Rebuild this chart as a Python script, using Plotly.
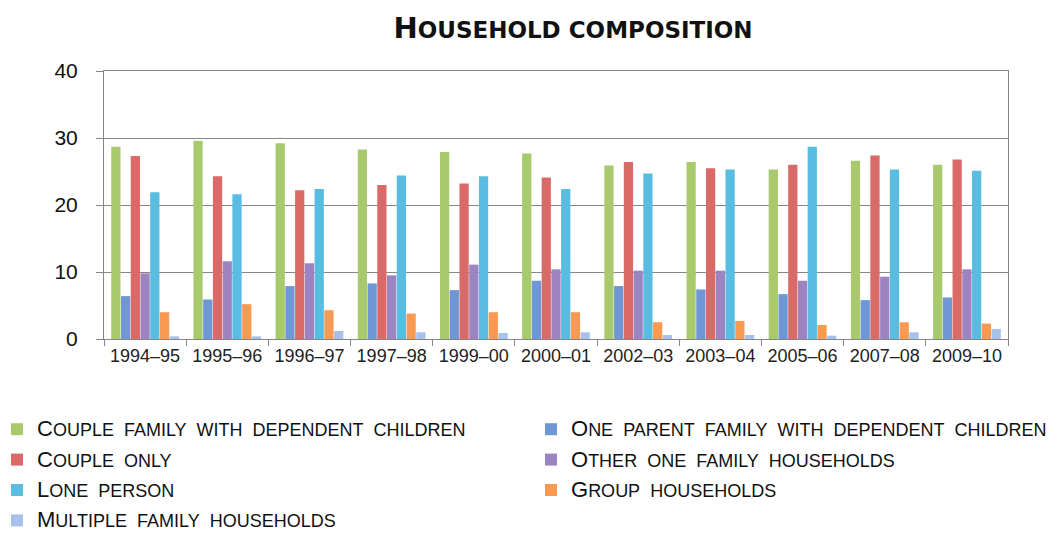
import plotly.graph_objects as go

years = ["1994–95", "1995–96", "1996–97", "1997–98", "1999–00", "2000–01",
         "2002–03", "2003–04", "2005–06", "2007–08", "2009–10"]

couple_with_children = [28.7, 29.6, 29.2, 28.3, 27.9, 27.7, 25.9, 26.4, 25.3, 26.6, 26.0]
one_parent = [6.4, 5.9, 7.9, 8.3, 7.3, 8.7, 7.9, 7.4, 6.7, 5.8, 6.2]
couple_only = [27.3, 24.3, 22.2, 23.0, 23.2, 24.1, 26.4, 25.5, 26.0, 27.4, 26.8]
other_one_family = [9.8, 11.6, 11.3, 9.5, 11.1, 10.4, 10.2, 10.2, 8.7, 9.3, 10.4]
lone_person = [21.9, 21.6, 22.4, 24.4, 24.3, 22.4, 24.7, 25.3, 28.7, 25.3, 25.1]
group_households = [4.0, 5.2, 4.3, 3.8, 4.0, 4.0, 2.5, 2.7, 2.1, 2.5, 2.3]
multiple_family = [0.4, 0.4, 1.2, 1.0, 0.9, 1.0, 0.6, 0.6, 0.5, 1.0, 1.5]

series = [
    ("Couple family with dependent children", couple_with_children, "#a9ca6c", "legend"),
    ("One parent family with dependent children", one_parent, "#6f97d6", "legend2"),
    ("Couple only", couple_only, "#d96a67", "legend"),
    ("Other one family households", other_one_family, "#9c84c2", "legend2"),
    ("Lone person", lone_person, "#58bde0", "legend"),
    ("Group households", group_households, "#f89a52", "legend2"),
    ("Multiple family households", multiple_family, "#a6c1ea", "legend"),
]


def small_caps(text, big=22):
    """Render text as small caps: first letter of the label larger, rest uppercase."""
    up = text.upper()
    rest = up[1:].replace(" ", "\u00a0 ")
    return f"<span style='font-size:{big}px'>{up[0]}</span>{rest}"


fig = go.Figure()
for name, vals, color, lg in series:
    fig.add_trace(go.Bar(
        x=years, y=vals, name=small_caps(name), legend=lg, legendgroup=name,
        marker=dict(color=color, line=dict(width=0)),
    ))

grid = "#868686"
legend_font = dict(family="Liberation Sans, Arial, sans-serif", size=18, color="#111111")

title_text = "<b><span style='font-size:29px'>H</span>OUSEHOLD COMPOSITION</b>"

PLOT_L, PLOT_W = 104, 904
PLOT_B, PLOT_H = 339, 268

fig.update_layout(
    width=1059, height=534,
    margin=dict(l=104, r=51, t=71, b=195, autoexpand=False),
    paper_bgcolor="white", plot_bgcolor="white",
    barmode="group", bargap=0.17, bargroupgap=0.05,
    title=dict(text=title_text, x=573 / 1059, xanchor="center",
               xref="container", y=1 - 30 / 534, yref="container", yanchor="middle",
               font=dict(family="DejaVu Sans, Liberation Sans, sans-serif", size=23,
                         color="#111111")),
    showlegend=True,
    legend=dict(orientation="v", xref="paper", yref="paper",
                x=(-3 - PLOT_L) / PLOT_W, xanchor="left",
                y=(PLOT_B - 411) / PLOT_H, yanchor="top",
                font=legend_font, tracegroupgap=4, itemclick=False,
                bgcolor="rgba(0,0,0,0)"),
    legend2=dict(orientation="v", xref="paper", yref="paper",
                 x=(531 - PLOT_L) / PLOT_W, xanchor="left",
                 y=(PLOT_B - 411) / PLOT_H, yanchor="top",
                 font=legend_font, tracegroupgap=4, itemclick=False,
                 bgcolor="rgba(0,0,0,0)"),
    xaxis=dict(showline=True, linecolor=grid, linewidth=1, mirror=True,
               ticks="outside", tickson="boundaries", ticklen=6, tickcolor=grid,
               tickfont=dict(family="Liberation Sans, Arial, sans-serif", size=18, color="#222222"),
               showgrid=False),
    yaxis=dict(range=[0, 40], dtick=10, showline=True, linecolor=grid, linewidth=1,
               mirror=True, ticks="outside", ticklen=7, tickcolor=grid,
               showgrid=True, gridcolor=grid, gridwidth=1, zeroline=False,
               ticklabelstandoff=14,
               tickfont=dict(family="Liberation Sans, Arial, sans-serif", size=21, color="#111111")),
)

fig.write_html("out.html")
